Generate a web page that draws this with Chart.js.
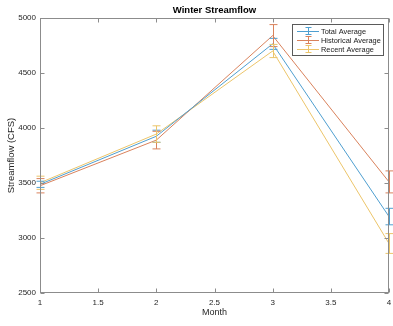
<!DOCTYPE html>
<html>
<head>
<meta charset="utf-8">
<script src="https://cdn.jsdelivr.net/npm/chart.js@4"></script>
<style>
  html, body { margin: 0; padding: 0; background: #fff; }
  #wrap { width: 393px; height: 326px; }
</style>
</head>
<body>
<div id="wrap"><canvas id="chart" width="393" height="326"></canvas></div>
<script>
// values
const months = [1, 2, 3, 4];
const totalAvg = [3488, 3925, 4765, 3195];
const totalErr = [28, 55, 50, 75];
const historicalAvg = [3475, 3890, 4840, 3510];
const historicalErr = [65, 80, 100, 100];
const recentAvg = [3502, 3945, 4700, 2950];
const recentErr = [60, 75, 60, 90];

const xTicks = [1, 1.5, 2, 2.5, 3, 3.5, 4];
const yTicks = [2500, 3000, 3500, 4000, 4500, 5000];

const colors = ['#4f9fd0', '#d9825c', '#ecc56a'];
const axisColor = '#8c8c8c';
const font = '"Liberation Sans", Arial, sans-serif';

function toPoints(vals) {
    return months.map((m, i) => ({ x: m, y: vals[i] }));
}

const errs = [totalErr, historicalErr, recentErr];

// error bars, inner ticks, box, title and legend
const matlabLook = {
    id: 'matlabLook',
    afterDatasetsDraw(chart) {
        const ctx = chart.ctx;
        const xs = chart.scales.x, ys = chart.scales.y;
        const area = chart.chartArea;

        chart.data.datasets.forEach((ds, di) => {
            ctx.save();
            ctx.strokeStyle = ds.borderColor;
            ctx.lineWidth = 1;
            ds.data.forEach((p, i) => {
                const e = errs[di][i];
                const px = Math.round(xs.getPixelForValue(p.x)) + 0.5;
                const top = ys.getPixelForValue(p.y + e);
                const bot = ys.getPixelForValue(p.y - e);
                ctx.beginPath();
                ctx.moveTo(px, top); ctx.lineTo(px, bot);
                ctx.moveTo(px - 4, top); ctx.lineTo(px + 4, top);
                ctx.moveTo(px - 4, bot); ctx.lineTo(px + 4, bot);
                ctx.stroke();
            });
            ctx.restore();
        });

        // box + inward ticks
        ctx.save();
        ctx.strokeStyle = axisColor;
        ctx.lineWidth = 1;
        const l = Math.round(area.left) + 0.5, r = Math.round(area.right) - 0.5;
        const t = Math.round(area.top) + 0.5, b = Math.round(area.bottom) - 0.5;
        ctx.strokeRect(l, t, r - l, b - t);
        ctx.beginPath();
        xTicks.forEach(v => {
            const px = Math.round(xs.getPixelForValue(v)) + 0.5;
            ctx.moveTo(px, b); ctx.lineTo(px, b - 4);
            ctx.moveTo(px, t); ctx.lineTo(px, t + 4);
        });
        yTicks.forEach(v => {
            const py = Math.round(ys.getPixelForValue(v)) + 0.5;
            ctx.moveTo(l, py); ctx.lineTo(l + 4, py);
            ctx.moveTo(r, py); ctx.lineTo(r - 4, py);
        });
        ctx.stroke();

        // title centred over the axes
        ctx.fillStyle = '#000';
        ctx.font = 'bold 9.5px ' + font;
        ctx.textAlign = 'center';
        ctx.textBaseline = 'middle';
        ctx.fillText('Winter Streamflow', (area.left + area.right) / 2, 10.5);

        // legend
        const lx = 292, ly = 24, lw = 91, lh = 31;
        ctx.fillStyle = '#fff';
        ctx.fillRect(lx, ly, lw, lh);
        ctx.strokeStyle = '#5a5a5a';
        ctx.strokeRect(lx + 0.5, ly + 0.5, lw, lh);
        ctx.font = '7.4px ' + font;
        ctx.textAlign = 'left';
        chart.data.datasets.forEach((ds, di) => {
            const y = ly + 7 + di * 9;
            ctx.strokeStyle = ds.borderColor;
            ctx.beginPath();
            ctx.moveTo(lx + 5, Math.round(y) + 0.5); ctx.lineTo(lx + 27, Math.round(y) + 0.5);
            const cx = lx + 16.5;
            ctx.moveTo(cx, y - 3.5); ctx.lineTo(cx, y + 3.5);
            ctx.moveTo(cx - 3, y - 3.5); ctx.lineTo(cx + 3, y - 3.5);
            ctx.moveTo(cx - 3, y + 3.5); ctx.lineTo(cx + 3, y + 3.5);
            ctx.stroke();
            ctx.fillStyle = '#1a1a1a';
            ctx.fillText(ds.label, lx + 29, y + 0.5);
        });
        ctx.restore();
    }
};

new Chart(document.getElementById('chart'), {
    type: 'line',
    data: {
        datasets: [
            { label: 'Total Average', data: toPoints(totalAvg), borderColor: colors[0] },
            { label: 'Historical Average', data: toPoints(historicalAvg), borderColor: colors[1] },
            { label: 'Recent Average', data: toPoints(recentAvg), borderColor: colors[2] }
        ]
    },
    options: {
        responsive: false,
        animation: false,
        layout: { padding: { left: 0, right: 0, top: 18, bottom: 0 } },
        elements: {
            line: { borderWidth: 1, tension: 0, fill: false },
            point: { radius: 0 }
        },
        plugins: {
            legend: { display: false },
            tooltip: { enabled: false },
            title: { display: false }
        },
        scales: {
            x: {
                type: 'linear',
                min: 1, max: 4,
                afterBuildTicks: s => { s.ticks = xTicks.map(v => ({ value: v })); },
                afterFit: s => { s.height = 33; s.paddingRight = 4; },
                grid: { display: false, drawTicks: false },
                border: { display: false },
                ticks: {
                    color: '#262626', font: { family: font, size: 8 }, padding: 5, maxRotation: 0,
                    callback: v => String(v)
                },
                title: {
                    display: true, text: 'Month', color: '#262626',
                    font: { family: font, size: 9 }, padding: { top: 0, bottom: 8 }
                }
            },
            y: {
                min: 2500, max: 5000,
                afterBuildTicks: s => { s.ticks = yTicks.map(v => ({ value: v })); },
                afterFit: s => { s.width = 40; },
                grid: { display: false, drawTicks: false },
                border: { display: false },
                ticks: {
                    color: '#262626', font: { family: font, size: 8 }, padding: 4,
                    callback: v => String(v)
                },
                title: {
                    display: true, text: 'Streamflow (CFS)', color: '#262626',
                    font: { family: font, size: 9.5 }, padding: { top: 6, bottom: 0 }
                }
            }
        }
    },
    plugins: [matlabLook]
});
</script>
</body>
</html>
